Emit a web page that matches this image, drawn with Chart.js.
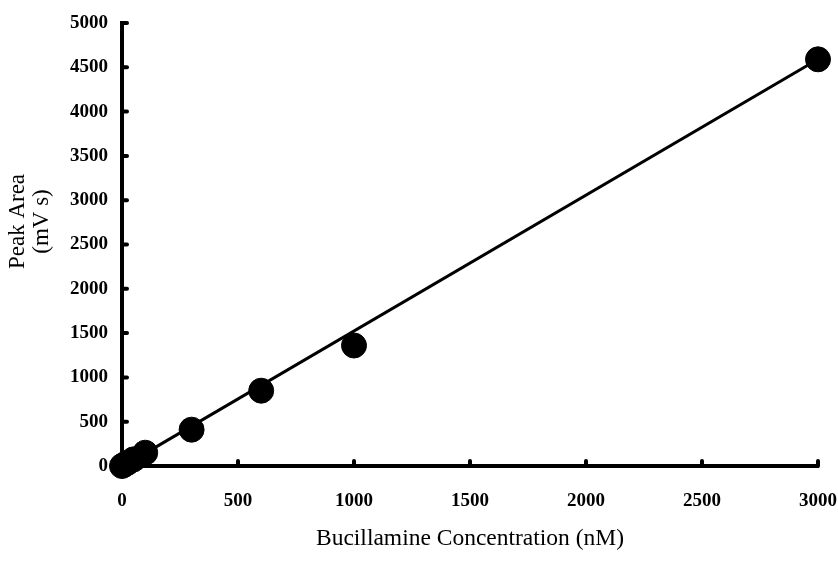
<!DOCTYPE html>
<html>
<head>
<meta charset="utf-8">
<script src="https://cdn.jsdelivr.net/npm/chart.js@4/dist/chart.umd.min.js"></script>
<style>
  body { margin: 0; background: #fff; }
  #wrap { width: 838px; height: 573px; }
</style>
</head>
<body>
<div id="wrap"><canvas id="chart"></canvas></div>
<script>
// Calibration data
const concentration = [0, 10, 25, 50, 100, 300, 600, 1000, 3000];
const peakArea = [0, 15, 38, 75, 150, 410, 850, 1360, 4590];

// Fitted line end points
const fitX = [0, 3000];
const fitY = [-10, 4590];

const xTicks = [0, 500, 1000, 1500, 2000, 2500, 3000];
const yTicks = [0, 500, 1000, 1500, 2000, 2500, 3000, 3500, 4000, 4500, 5000];

// leading spaces push the rotated title up a little, as in the original
const pad = '\u00a0'.repeat(8);

// short inward tick marks, like the original plot
const innerTicks = {
    id: 'innerTicks',
    afterDraw(chart) {
        const ctx = chart.ctx;
        const x = chart.scales.x;
        const y = chart.scales.y;
        ctx.save();
        ctx.strokeStyle = '#000';
        ctx.lineWidth = 4;
        ctx.lineCap = 'round';
        xTicks.forEach(v => {
            const px = x.getPixelForValue(v);
            ctx.beginPath();
            ctx.moveTo(px, y.bottom);
            ctx.lineTo(px, y.bottom - 5);
            ctx.stroke();
        });
        yTicks.forEach(v => {
            const py = y.getPixelForValue(v);
            ctx.beginPath();
            ctx.moveTo(x.left, py);
            ctx.lineTo(x.left + 5, py);
            ctx.stroke();
        });
        ctx.restore();
    }
};

new Chart(document.getElementById('chart'), {
    type: 'scatter',
    data: {
        datasets: [{
            type: 'line',
            data: fitX.map((v, i) => ({ x: v, y: fitY[i] })),
            borderColor: '#000',
            borderWidth: 3,
            pointRadius: 0,
            fill: false,
            clip: false
        }, {
            data: concentration.map((v, i) => ({ x: v, y: peakArea[i] })),
            backgroundColor: '#000',
            borderColor: '#000',
            pointRadius: 12.5,
            clip: false
        }]
    },
    options: {
        responsive: true,
        maintainAspectRatio: false,
        animation: false,
        layout: { padding: { top: 23, right: 20, left: 0, bottom: 0 } },
        plugins: {
            legend: { display: false },
            tooltip: { enabled: false }
        },
        scales: {
            x: {
                min: 0,
                max: 3000,
                afterBuildTicks: s => { s.ticks = xTicks.map(v => ({ value: v })); },
                afterFit: s => { s.height = 107; s.paddingLeft = 0; s.paddingRight = 0; },
                grid: { display: false, drawTicks: false },
                border: { display: true, color: '#000', width: 4 },
                ticks: {
                    color: '#000',
                    padding: 24,
                    maxRotation: 0,
                    callback: v => String(v),
                    font: { family: 'Liberation Serif', size: 19, weight: 'bold' }
                },
                title: {
                    display: true,
                    text: 'Bucillamine Concentration (nM)',
                    color: '#000',
                    padding: { top: 4, bottom: 20 },
                    font: { family: 'Liberation Serif', size: 23.5 }
                }
            },
            y: {
                min: 0,
                max: 5000,
                afterBuildTicks: s => { s.ticks = yTicks.map(v => ({ value: v })); },
                afterFit: s => { s.width = 122; s.paddingTop = 0; s.paddingBottom = 0; },
                grid: { display: false, drawTicks: false },
                border: { display: true, color: '#000', width: 4 },
                ticks: {
                    color: '#000',
                    padding: 14,
                    callback: v => String(v),
                    font: { family: 'Liberation Serif', size: 19, weight: 'bold' }
                },
                title: {
                    display: true,
                    text: [pad + 'Peak Area', pad + '(mV s)'],
                    color: '#000',
                    padding: { top: 6, bottom: 0 },
                    font: { family: 'Liberation Serif', size: 23, lineHeight: 1.05 }
                }
            }
        }
    },
    plugins: [innerTicks]
});
</script>
</body>
</html>
